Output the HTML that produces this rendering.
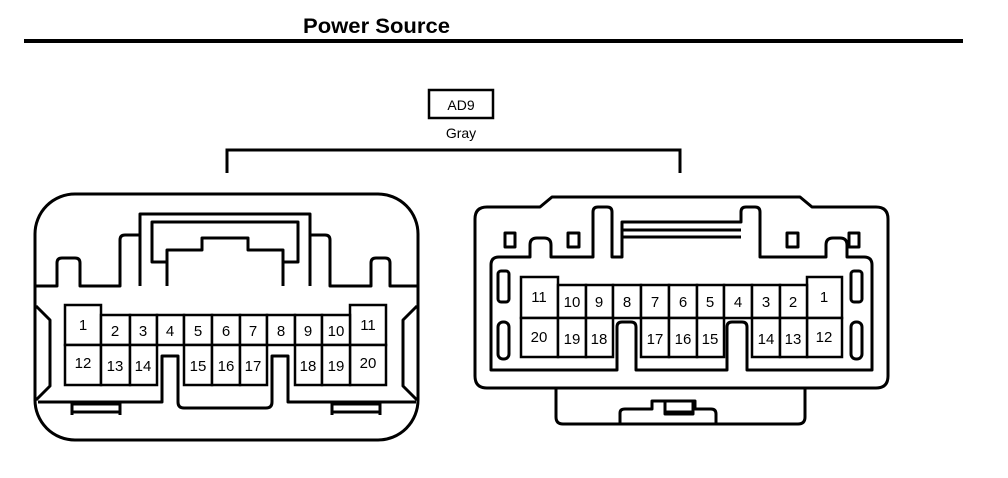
<!DOCTYPE html>
<html><head><meta charset="utf-8"><style>
html,body{margin:0;padding:0;background:#fff;}
svg{display:block;}
text{font-family:"Liberation Sans",Arial,sans-serif;fill:#000;}
</style></head><body>
<svg width="1008" height="478" viewBox="0 0 1008 478" xmlns="http://www.w3.org/2000/svg">
<text x="303" y="33" font-size="21" font-weight="bold" textLength="147" lengthAdjust="spacingAndGlyphs">Power Source</text>
<rect x="24" y="39" width="939" height="4" fill="#000"/>
<rect x="429" y="90" width="64" height="28" fill="none" stroke="#000" stroke-width="2.5"/>
<text x="461" y="110" font-size="14" text-anchor="middle">AD9</text>
<text x="461" y="138" font-size="14" text-anchor="middle">Gray</text>
<path d="M227 173 V150 H680 V173" fill="none" stroke="#000" stroke-width="3"/>

<g fill="none" stroke="#000" stroke-width="3" stroke-linejoin="round">
<!-- LEFT connector -->
<rect x="35" y="194" width="383" height="246" rx="40"/>
<path d="M36 286 H57 V263 Q57 258 62 258 H75 Q80 258 80 263 V286 H120 V240 Q120 235 125 235 H140"/>
<path d="M140 286 V214 H310 V286"/>
<path d="M167 286 V262 H152 V222 H298 V262 H283 V286"/>
<path d="M167 262 V250 H202 V238 H248 V250 H283 V262"/>
<path d="M310 235 H325 Q330 235 330 240 V286 H371 V263 Q371 258 376 258 H385 Q390 258 390 263 V286 H417"/>
<path d="M36 400 L50 386 V320 L36 306"/>
<path d="M417 400 L403 386 V320 L417 306"/>
<path d="M38 402 H162 V356 H178 V402 Q178 408 184 408 H266 Q272 408 272 402 V356 H288 V402 H416"/>
<path d="M72 402 V415 M120 402 V415 M72 404 H120 M72 412 H120 M332 402 V415 M380 402 V415 M332 404 H380 M332 412 H380"/>
</g>
<g fill="#fff" stroke="#000" stroke-width="2.5">
<rect x="65" y="305" width="36" height="40"/>
<rect x="65" y="345" width="36" height="40"/>
<rect x="350" y="305" width="36" height="40"/>
<rect x="350" y="345" width="36" height="40"/>
<rect x="101" y="315" width="29" height="30"/><rect x="130" y="315" width="27" height="30"/>
<rect x="157" y="315" width="27" height="30"/><rect x="184" y="315" width="28" height="30"/>
<rect x="212" y="315" width="28" height="30"/><rect x="240" y="315" width="27" height="30"/>
<rect x="267" y="315" width="28" height="30"/><rect x="295" y="315" width="27" height="30"/>
<rect x="322" y="315" width="28" height="30"/>
<rect x="101" y="345" width="29" height="40"/><rect x="130" y="345" width="27" height="40"/>
<rect x="184" y="345" width="28" height="40"/><rect x="212" y="345" width="28" height="40"/><rect x="240" y="345" width="27" height="40"/>
<rect x="295" y="345" width="27" height="40"/><rect x="322" y="345" width="28" height="40"/>
</g>
<g font-size="15" text-anchor="middle">
<text x="83" y="330">1</text><text x="115" y="336">2</text><text x="143" y="336">3</text><text x="170" y="336">4</text>
<text x="198" y="336">5</text><text x="226" y="336">6</text><text x="253" y="336">7</text><text x="281" y="336">8</text>
<text x="308" y="336">9</text><text x="336" y="336">10</text><text x="368" y="330">11</text>
<text x="83" y="368">12</text><text x="115" y="371">13</text><text x="143" y="371">14</text>
<text x="198" y="371">15</text><text x="226" y="371">16</text><text x="253" y="371">17</text>
<text x="308" y="371">18</text><text x="336" y="371">19</text><text x="368" y="368">20</text>
</g>

<!-- RIGHT connector -->
<g fill="none" stroke="#000" stroke-width="3" stroke-linejoin="round">
<path d="M487 207 H540 L552 197 H800 L812 207 H876 Q888 207 888 219 V376 Q888 388 876 388 H487 Q475 388 475 376 V219 Q475 207 487 207 Z"/>
<path d="M491 370 V265 Q491 257 499 257 H530 V245 Q530 238 537 238 H544 Q551 238 551 245 V257 H593 V212 Q593 207 598 207 H607 Q612 207 612 212 V257 H622 V222 H741 V212 Q741 207 746 207 H755 Q760 207 760 212 V257 H826 V245 Q826 238 833 238 H840 Q847 238 847 245 V257 H864 Q872 257 872 265 V370 H747 V327 Q747 322 742 322 H732 Q727 322 727 327 V370 H636 V327 Q636 322 631 322 H622 Q617 322 617 327 V370 Z"/>
<path d="M622 230 H741 M622 237 H741"/>
<rect x="505" y="233" width="10" height="14"/><rect x="568" y="233" width="11" height="14"/>
<rect x="787" y="233" width="11" height="14"/><rect x="849" y="233" width="10" height="14"/>
<rect x="498" y="271" width="11" height="31" rx="3"/><rect x="851" y="271" width="11" height="31" rx="3"/>
<rect x="498" y="322" width="11" height="37" rx="5"/><rect x="851" y="322" width="11" height="37" rx="5"/>
<path d="M556 388 V417 Q556 424 563 424 H798 Q805 424 805 417 V388"/>
<path d="M620 424 V413 Q620 409 625 409 H652 V401 H695 V409 H711 Q716 409 716 414 V424"/>
<path d="M665 401 V414 H693 V401 M665 412 H693"/>
</g>
<g fill="#fff" stroke="#000" stroke-width="2.5">
<rect x="521" y="277" width="37" height="41"/><rect x="521" y="318" width="37" height="39"/>
<rect x="807" y="277" width="35" height="41"/><rect x="807" y="318" width="35" height="39"/>
<rect x="558" y="285" width="28" height="33"/><rect x="586" y="285" width="27" height="33"/><rect x="613" y="285" width="28" height="33"/>
<rect x="641" y="285" width="28" height="33"/><rect x="669" y="285" width="28" height="33"/><rect x="697" y="285" width="27" height="33"/>
<rect x="724" y="285" width="28" height="33"/><rect x="752" y="285" width="28" height="33"/><rect x="780" y="285" width="27" height="33"/>
<rect x="558" y="318" width="28" height="39"/><rect x="586" y="318" width="27" height="39"/>
<rect x="641" y="318" width="28" height="39"/><rect x="669" y="318" width="28" height="39"/><rect x="697" y="318" width="27" height="39"/>
<rect x="752" y="318" width="28" height="39"/><rect x="780" y="318" width="27" height="39"/>
</g>
<g font-size="15" text-anchor="middle">
<text x="539" y="302">11</text><text x="572" y="307">10</text><text x="599" y="307">9</text><text x="627" y="307">8</text>
<text x="655" y="307">7</text><text x="683" y="307">6</text><text x="710" y="307">5</text><text x="738" y="307">4</text>
<text x="766" y="307">3</text><text x="793" y="307">2</text><text x="824" y="302">1</text>
<text x="539" y="342">20</text><text x="572" y="344">19</text><text x="599" y="344">18</text>
<text x="655" y="344">17</text><text x="683" y="344">16</text><text x="710" y="344">15</text>
<text x="766" y="344">14</text><text x="793" y="344">13</text><text x="824" y="342">12</text>
</g>
</svg>
</body></html>
